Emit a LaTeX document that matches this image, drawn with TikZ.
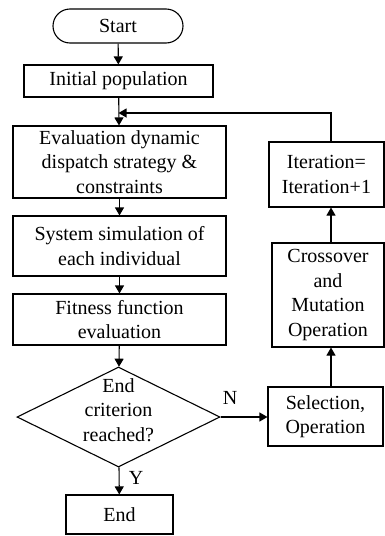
\documentclass[tikz,border=0pt]{standalone}
\usepackage{fontspec}
\setmainfont{Liberation Serif}
\usetikzlibrary{shapes.geometric,arrows.meta}
\begin{document}
\begin{tikzpicture}[x=1pt,y=-1pt,
  every node/.style={font=\fontsize{20}{24.5}\selectfont},
  box/.style={draw,line width=1.1pt,inner sep=0pt,align=center},
  term/.style={box,rounded corners=17pt},
  dia/.style={draw,line width=1.1pt,diamond,aspect=2.03,inner sep=0pt,align=center},
  arr/.style={line width=1.1pt,-{Triangle[length=8pt,width=9pt]}},
  lbl/.style={inner sep=0pt}]
\useasboundingbox (0,0) rectangle (385,536);
\node[term,minimum width=130pt,minimum height=34pt] (start) at (118,26) {Start};
\node[box,minimum width=189pt,minimum height=32pt] (init) at (118.5,81) {Initial population};
\node[box,minimum width=213pt,minimum height=72pt] (eval) at (119.5,162) {Evaluation dynamic\\dispatch strategy \&\\constraints};
\node[box,minimum width=213pt,minimum height=60pt] (sim) at (119.5,246) {System simulation of\\each individual};
\node[box,minimum width=213pt,minimum height=51pt] (fit) at (119.5,319.5) {Fitness function\\evaluation};
\node[draw,line width=1.1pt,diamond,minimum width=203pt,minimum height=100pt,inner sep=0pt] (crit) at (118.5,417) {};
\node[align=center,inner sep=0pt] (crittext) at (118.5,410) {End\\criterion\\reached?};
\node[box,minimum width=107pt,minimum height=39pt] (end) at (119.5,514.5) {End};
\node[box,minimum width=115pt,minimum height=59pt] (sel) at (325.5,416.5) {Selection,\\Operation};
\node[box,minimum width=112pt,minimum height=104pt] (cross) at (328,295) {Crossover\\and\\Mutation\\Operation};
\node[box,minimum width=115pt,minimum height=65pt] (iter) at (326.5,174.5) {Iteration=\\Iteration+1};
\node[lbl] (ylab) at (136,478) {Y};
\node[lbl] (nlab) at (230,398) {N};
\coordinate (fb) at (118.5,113);
\coordinate (fbr) at (331,113);
\draw[arr] (start) -- (init);
\draw[arr] (init) -- (eval);
\draw[arr] (eval) -- (sim);
\draw[arr] (sim) -- (fit);
\draw[arr] (fit) -- (crit);
\draw[arr] (crit) -- (end);
\draw[arr] (crit.east) -- (sel.west |- crit.east);
\draw[arr] (sel.north -| fbr) -- (cross.south -| fbr);
\draw[arr] (cross.north -| fbr) -- (iter.south -| fbr);
\draw[arr] (iter.north -| fbr) -- (fbr) -- (fb);
\end{tikzpicture}
\end{document}
